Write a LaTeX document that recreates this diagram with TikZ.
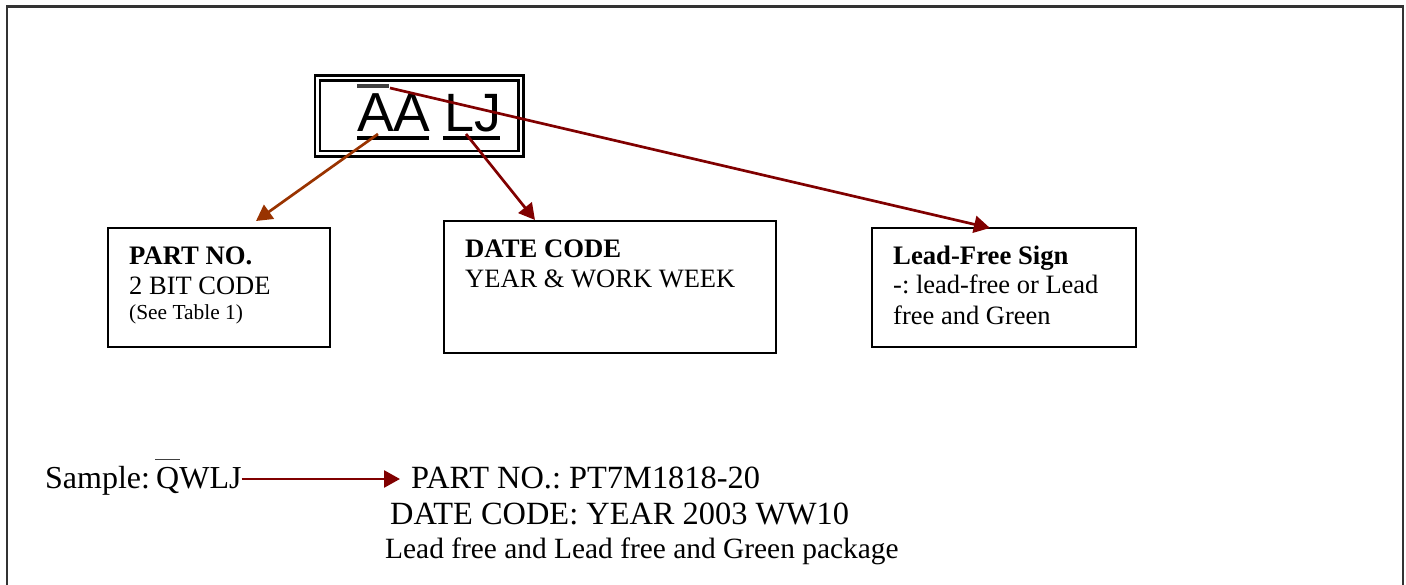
\documentclass[tikz,border=0pt]{standalone}
\usepackage{fontspec}
\setmainfont{Liberation Serif}
\newfontfamily\arialfont{Liberation Sans}
\usetikzlibrary{arrows.meta}
\definecolor{darkred}{HTML}{800000}
\definecolor{rust}{HTML}{993300}
\newcommand{\fs}[1]{\fontsize{#1pt}{#1pt}\selectfont}
\frenchspacing
\tikzset{
  x=1pt,y=-1pt,
  infobox/.style={draw=black,line width=2pt,outer sep=0pt,inner sep=0pt,anchor=north west},
  markbox/.style={draw=black,line width=2.6pt,outer sep=0pt,inner sep=0pt,anchor=north west},
  txt/.style={inner sep=0pt,anchor=base west,text=black},
  bodytxt/.style={txt,font=\fs{26.5}},
  boldtxt/.style={txt,font=\bfseries\fs{26.7}},
  sampletxt/.style={txt,font=\fs{32.4}},
  link/.style={line width=2.7pt,-{Triangle[length=16pt,width=17pt]}},
  bar/.style={line width=3.5pt,line cap=butt},
}
\begin{document}
\begin{tikzpicture}
\useasboundingbox (0,0) rectangle (1406,585);
\draw[line width=2.2pt,color=black!80] (7,585) -- (7,6.5) -- (1403,6.5) -- (1403,585);
% marking box
\node[markbox,minimum width=208.5pt,minimum height=81pt] (outer) at (315,75.5) {};
\node[markbox,minimum width=198.5pt,minimum height=70.5pt] (inner) at (320,80.5) {};
\node[txt,font=\arialfont\fs{55}] (aa) at (357,131.5) {AA};
\node[txt,font=\arialfont\fs{54}] (lj) at (444.5,131.5) {LJ};
\draw[bar,line width=4pt] (357,138) -- (429,138);
\draw[bar,line width=4pt] (443,138) -- (500,138);
\draw[bar,color=black!75] (357,86) -- (389,86);
% boxes
\node[infobox,minimum width=222pt,minimum height=119pt] (part) at (108,228.5) {};
\node[infobox,minimum width=332pt,minimum height=132pt] (date) at (444,221.5) {};
\node[infobox,minimum width=264pt,minimum height=119pt] (lead) at (872,228) {};
\node[boldtxt] (t1) at (129,265) {PART NO.};
\node[bodytxt] (t2) at (129,295) {2 BIT CODE};
\node[txt,font=\fs{21.4}] (t3) at (129,320) {(See Table 1)};
\node[boldtxt] (t4) at (465,258) {DATE CODE};
\node[bodytxt] (t5) at (465,288) {YEAR \& WORK WEEK};
\node[boldtxt] (t6) at (893,265) {Lead-Free Sign};
\node[bodytxt] (t7) at (893,294) {-: lead-free or Lead};
\node[bodytxt] (t8) at (893,325) {free and Green};
% arrows
\coordinate (aaout) at (378,134);
\coordinate (ljout) at (466,134);
\coordinate (signout) at (390,88);
\coordinate (partin) at (256,221);
\coordinate (datein) at (535,220);
\coordinate (leadin) at (990,228);
\draw[link,color=rust] (aaout) -- (partin);
\draw[link,color=darkred] (ljout) -- (datein);
\draw[link,color=darkred] (signout) -- (leadin);
% sample
\node[sampletxt,font=\fs{32}] (s1) at (45,488) {Sample:};
\node[sampletxt,font=\fs{32}] (s2) at (156,488) {QWLJ};
\draw[line width=1.5pt,color=black!75] (155,459.5) -- (180,459.5);
\node[sampletxt] (s3) at (411,488) {PART NO.: PT7M1818-20};
\node[sampletxt] (s4) at (390,524) {DATE CODE: YEAR 2003 WW10};
\node[txt,font=\fs{29.4}] (s5) at (385,558) {Lead free and Lead free and Green package};
\coordinate (arrowend) at (400,479);
\draw[link,color=darkred] (s2.base east |- arrowend) -- (arrowend);
\end{tikzpicture}
\end{document}
